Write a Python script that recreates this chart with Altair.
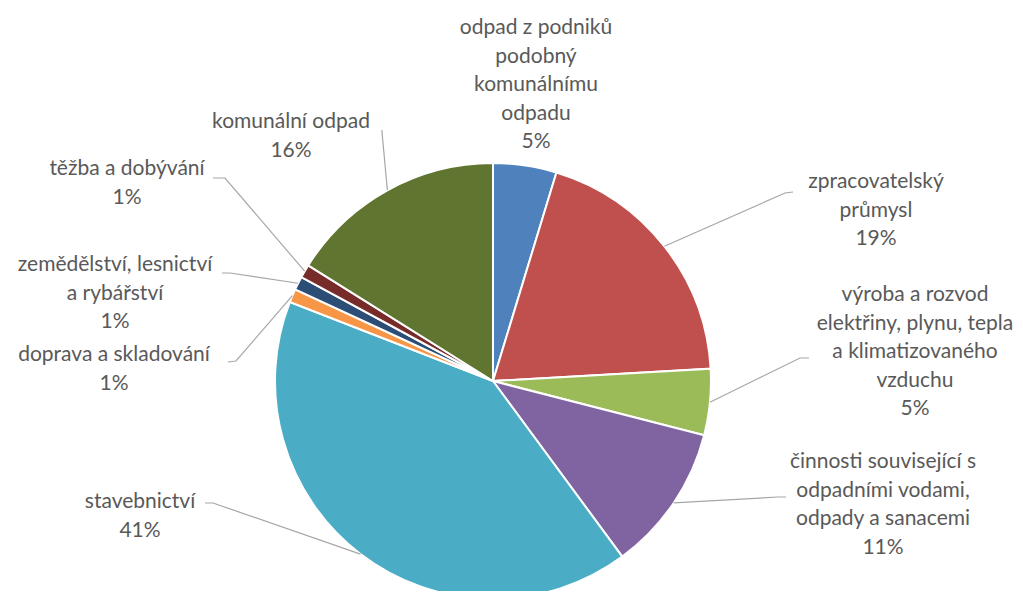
import math
import altair as alt
import pandas as pd

# ---- data ----
categories = [
    "odpad z podniků podobný komunálnímu odpadu",
    "zpracovatelský průmysl",
    "výroba a rozvod elektřiny, plynu, tepla a klimatizovaného vzduchu",
    "činnosti související s odpadními vodami, odpady a sanacemi",
    "stavebnictví",
    "doprava a skladování",
    "zemědělství, lesnictví a rybářství",
    "těžba a dobývání",
    "komunální odpad",
]
label_lines = [
    ["odpad z podniků", "podobný", "komunálnímu", "odpadu"],
    ["zpracovatelský", "průmysl"],
    ["výroba a rozvod", "elektřiny, plynu, tepla", "a klimatizovaného", "vzduchu"],
    ["činnosti související s", "odpadními vodami,", "odpady a sanacemi"],
    ["stavebnictví"],
    ["doprava a skladování"],
    ["zemědělství, lesnictví", "a rybářství"],
    ["těžba a dobývání"],
    ["komunální odpad"],
]
shares = [4.7, 19.4, 4.9, 10.9, 41.0, 1.0, 1.0, 1.0, 16.1]
colors = ["#4F81BD", "#C0504D", "#9BBB59", "#8064A2", "#4BACC6",
          "#F79646", "#2C4D75", "#772C2A", "#5F7530"]

# ---- layout (page pixel coordinates) ----
M = 8
W, H = 1007, 583
CX, CY, R = 493, 381, 218
label_x = [536, 876, 915, 883, 140, 114, 115, 127, 291]
label_y = [28, 182, 295, 462, 502, 355, 265, 169, 122]  # first-line centres
elbow_x = [None, 785, 800, 778, 213, 236, 230, 225, 382]
elbow_y = [None, 193, 358, 497, 503, 361, 273, 178, 132]
end_x = [None, 793, 809, 786, 205, 228, 222, 213, 382]
end_y = [None, 192, 358, 497, 503, 362, 273, 178, 130]

total = sum(shares)
pie = pd.DataFrame({"cat": categories, "value": shares, "idx": list(range(len(shares)))})

lab_rows = []
line_rows = []
cum = 0.0
for i, (c, v) in enumerate(zip(categories, shares)):
    mid = (cum + v / 2) / total * 2 * math.pi
    cum += v
    pct = f"{round(v / total * 100):.0f}%"
    lab_rows.append({"cat": c, "lx": label_x[i] - M, "ly": label_y[i] - M,
                     "text": "\n".join(label_lines[i] + [pct])})
    if elbow_x[i] is not None:
        sx = CX + R * math.sin(mid)
        sy = CY - R * math.cos(mid)
        pts = [(sx, sy), (elbow_x[i], elbow_y[i]), (end_x[i], end_y[i])]
        for k, (px, py) in enumerate(pts):
            line_rows.append({"cat": c, "k": k, "px": px - M, "py": py - M})

labels = pd.DataFrame(lab_rows)
leaders = pd.DataFrame(line_rows)

xs = alt.Scale(domain=[0, W], range=[0, W], nice=False, zero=False)
ys = alt.Scale(domain=[0, H], range=[0, H], nice=False, zero=False)

arcs = alt.Chart(pie).mark_arc(outerRadius=R, stroke="white", strokeWidth=2).encode(
    theta=alt.Theta("value:Q", stack=True),
    order=alt.Order("idx:Q"),
    color=alt.Color("cat:N", scale=alt.Scale(domain=categories, range=colors), legend=None),
    x=alt.value(CX - M),
    y=alt.value(CY - M),
)

lines = alt.Chart(leaders).mark_line(color="#A6A6A6", strokeWidth=1.2).encode(
    x=alt.X("px:Q", scale=xs, axis=None),
    y=alt.Y("py:Q", scale=ys, axis=None),
    detail="cat:N",
    order="k:Q",
)

texts = alt.Chart(labels).mark_text(
    align="center", baseline="middle", lineBreak="\n", lineHeight=28.5,
    fontSize=21, font="Lato", color="#595959",
).encode(
    x=alt.X("lx:Q", scale=xs, axis=None),
    y=alt.Y("ly:Q", scale=ys, axis=None),
    text="text:N",
)

chart = alt.layer(arcs, lines, texts).properties(
    width=W, height=H, padding=0, autosize=alt.AutoSizeParams(type="none"),
    background="white",
).configure_view(stroke=None)

chart.save("out.html", embed_options={"renderer": "svg", "actions": False})
